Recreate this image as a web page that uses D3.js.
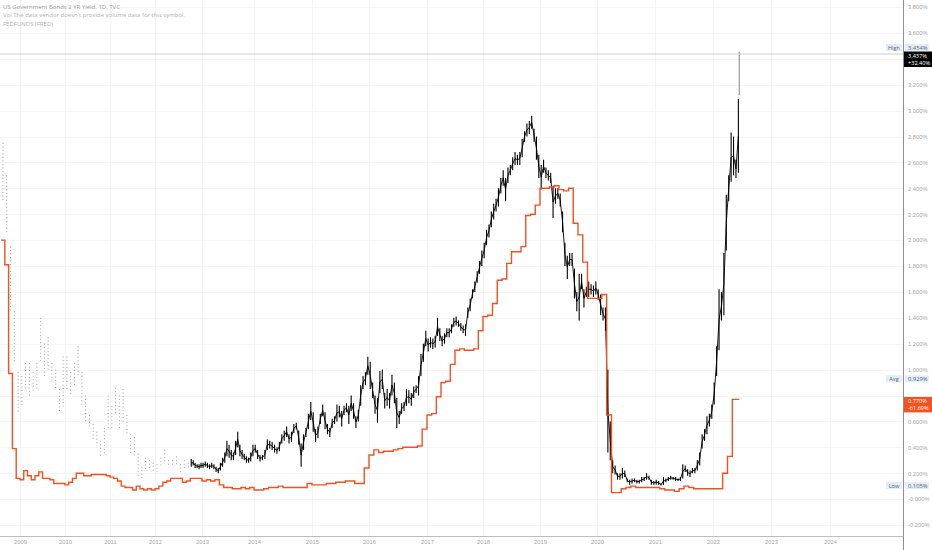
<!DOCTYPE html>
<html>
<head>
<meta charset="utf-8">
<script src="https://cdn.jsdelivr.net/npm/d3@7"></script>
<style>
  html, body { margin: 0; padding: 0; background: #fff; }
  svg { display: block; font-family: 'Open Sans', sans-serif; }
</style>
</head>
<body>
<div id="chart"></div>
<script>
// ---- Data -------------------------------------------------------------
const legendLines = [
  'US Government Bonds 2 YR Yield, 1D, TVC',
  "Vol  The data vendor doesn't provide volume data for this symbol.",
  'FEDFUNDS (FRED)'
];

const yearTicks = [2009, 2010, 2011, 2012, 2013, 2014, 2015, 2016,
                   2017, 2018, 2019, 2020, 2021, 2022, 2023, 2024];

const yTicks = [3.8, 3.6, 3.4, 3.2, 3.0, 2.8, 2.6, 2.4, 2.2, 2.0, 1.8,
                1.6, 1.4, 1.2, 1.0, 0.8, 0.6, 0.4, 0.2, 0.0, -0.2];
const yTickLabels = ['3.800%', '3.600%', '3.400%', '3.200%', '3.000%', '2.800%',
  '2.600%', '2.400%', '2.200%', '2.000%', '1.800%', '1.600%', '1.400%', '1.200%',
  '1.000%', '0.800%', '0.600%', '0.400%', '0.200%', '-0.000%', '-0.200%'];

// 2Y yield, monthly [low, high], Aug 2008 .. Sep 2012 (sparse, drawn dotted)
const twoYearEarlyStart = { year: 2008, month: 7 };
const twoYearEarly = [
  [2.30, 2.75], [2.05, 2.50], [1.45, 1.95], [1.05, 1.45], [0.66, 0.98],
  [0.72, 0.95], [0.85, 1.05], [0.78, 1.05], [0.82, 0.98], [0.85, 1.05], [1.05, 1.40],
  [0.95, 1.20], [0.98, 1.25], [0.90, 1.05], [0.85, 1.00], [0.68, 0.85], [0.70, 1.10],
  [0.85, 1.10], [0.80, 0.98], [0.88, 1.05], [0.95, 1.18], [0.72, 0.98], [0.60, 0.80],
  [0.55, 0.65], [0.45, 0.58], [0.42, 0.52], [0.33, 0.45], [0.35, 0.55], [0.55, 0.80],
  [0.55, 0.72], [0.65, 0.86], [0.55, 0.80], [0.60, 0.85], [0.50, 0.65], [0.35, 0.50],
  [0.33, 0.48], [0.17, 0.35], [0.16, 0.25], [0.22, 0.32], [0.22, 0.30], [0.22, 0.28],
  [0.21, 0.27], [0.26, 0.32], [0.28, 0.38], [0.25, 0.30], [0.25, 0.30], [0.26, 0.33],
  [0.21, 0.27], [0.22, 0.30], [0.23, 0.28]
];

// 2Y yield, half-month [low, high], Oct 2012 .. first half of Jun 2022
const twoYearStart = { year: 2012, month: 9 };
const twoYear = [
  // 2012 Oct-Dec
  [0.25, 0.31], [0.26, 0.30], [0.24, 0.28], [0.24, 0.27], [0.23, 0.27], [0.24, 0.28],
  // 2013
  [0.24, 0.28], [0.25, 0.29], [0.24, 0.28], [0.23, 0.27], [0.24, 0.28], [0.23, 0.27],
  [0.21, 0.25], [0.20, 0.24], [0.22, 0.28], [0.25, 0.32], [0.28, 0.36], [0.33, 0.45],
  [0.32, 0.42], [0.30, 0.38], [0.30, 0.36], [0.34, 0.45], [0.40, 0.52], [0.33, 0.42],
  [0.31, 0.38], [0.30, 0.35], [0.28, 0.33], [0.28, 0.32], [0.29, 0.36], [0.33, 0.42],
  // 2014
  [0.36, 0.42], [0.31, 0.38], [0.29, 0.34], [0.30, 0.34], [0.31, 0.38], [0.38, 0.46],
  [0.39, 0.45], [0.38, 0.44], [0.36, 0.42], [0.35, 0.40], [0.37, 0.44], [0.43, 0.50],
  [0.45, 0.53], [0.48, 0.56], [0.43, 0.50], [0.44, 0.52], [0.51, 0.58], [0.54, 0.59],
  [0.42, 0.53], [0.25, 0.43], [0.38, 0.50], [0.48, 0.55], [0.54, 0.66], [0.61, 0.75],
  // 2015
  [0.52, 0.67], [0.44, 0.54], [0.47, 0.56], [0.58, 0.66], [0.64, 0.73], [0.54, 0.67],
  [0.50, 0.58], [0.48, 0.55], [0.55, 0.62], [0.58, 0.64], [0.60, 0.73], [0.63, 0.72],
  [0.56, 0.68], [0.65, 0.72], [0.67, 0.74], [0.58, 0.72], [0.68, 0.80], [0.62, 0.74],
  [0.55, 0.64], [0.60, 0.69], [0.72, 0.88], [0.85, 0.95], [0.88, 0.98], [0.96, 1.10],
  // 2016
  [0.85, 1.06], [0.78, 0.90], [0.66, 0.80], [0.59, 0.78], [0.82, 0.99], [0.85, 1.00],
  [0.70, 0.82], [0.72, 0.85], [0.70, 0.82], [0.80, 0.96], [0.74, 0.90], [0.55, 0.78],
  [0.58, 0.68], [0.66, 0.74], [0.68, 0.75], [0.72, 0.85], [0.74, 0.84], [0.72, 0.82],
  [0.78, 0.87], [0.82, 0.88], [0.80, 0.95], [0.95, 1.12], [1.06, 1.20], [1.18, 1.30],
  // 2017
  [1.14, 1.24], [1.17, 1.25], [1.16, 1.24], [1.17, 1.26], [1.26, 1.40], [1.22, 1.32],
  [1.18, 1.26], [1.20, 1.28], [1.25, 1.32], [1.25, 1.32], [1.28, 1.35], [1.33, 1.40],
  [1.34, 1.41], [1.33, 1.38], [1.30, 1.36], [1.28, 1.34], [1.26, 1.35], [1.40, 1.48],
  [1.45, 1.55], [1.55, 1.62], [1.60, 1.68], [1.67, 1.76], [1.74, 1.84], [1.80, 1.92],
  // 2018
  [1.86, 1.98], [1.96, 2.08], [2.02, 2.12], [2.10, 2.22], [2.16, 2.28], [2.22, 2.32],
  [2.26, 2.40], [2.36, 2.48], [2.42, 2.54], [2.30, 2.48], [2.44, 2.56], [2.50, 2.58],
  [2.54, 2.64], [2.58, 2.68], [2.58, 2.66], [2.58, 2.68], [2.64, 2.78], [2.76, 2.84],
  [2.80, 2.90], [2.82, 2.92], [2.86, 2.96], [2.76, 2.86], [2.62, 2.80], [2.48, 2.66],
  // 2019
  [2.39, 2.58], [2.52, 2.62], [2.48, 2.56], [2.46, 2.54], [2.44, 2.52], [2.17, 2.42],
  [2.28, 2.40], [2.32, 2.40], [2.26, 2.36], [2.06, 2.22], [1.80, 1.98], [1.70, 1.88],
  [1.80, 1.90], [1.80, 1.90], [1.55, 1.78], [1.45, 1.60], [1.38, 1.74], [1.62, 1.74],
  [1.48, 1.62], [1.56, 1.64], [1.56, 1.68], [1.58, 1.66], [1.56, 1.65], [1.58, 1.68],
  // 2020
  [1.54, 1.62], [1.42, 1.58], [1.38, 1.48], [1.30, 1.48], [0.36, 1.00], [0.30, 0.60],
  [0.20, 0.30], [0.19, 0.26], [0.15, 0.20], [0.15, 0.20], [0.16, 0.24], [0.17, 0.22],
  [0.13, 0.16], [0.11, 0.15], [0.12, 0.16], [0.13, 0.16], [0.12, 0.15], [0.12, 0.15],
  [0.13, 0.17], [0.14, 0.17], [0.15, 0.20], [0.15, 0.18], [0.11, 0.15], [0.11, 0.14],
  // 2021
  [0.11, 0.15], [0.11, 0.14], [0.105, 0.12], [0.11, 0.17], [0.13, 0.16], [0.14, 0.17],
  [0.15, 0.18], [0.15, 0.17], [0.14, 0.17], [0.14, 0.16], [0.14, 0.17], [0.16, 0.27],
  [0.21, 0.26], [0.18, 0.23], [0.17, 0.22], [0.20, 0.24], [0.20, 0.24], [0.22, 0.30],
  [0.26, 0.36], [0.39, 0.50], [0.45, 0.54], [0.50, 0.64], [0.56, 0.66], [0.62, 0.73],
  // 2022 Jan .. Jun (first half)
  [0.73, 0.90], [0.95, 1.18], [1.15, 1.62], [1.38, 1.60], [1.42, 1.90], [1.92, 2.35],
  [2.30, 2.50], [2.45, 2.83], [2.50, 2.80], [2.48, 2.62], [2.52, 3.09]
];

// last (live) daily bar, 14 Jun 2022
const lastBarDate = 2022.453;
const lastBar = [3.12, 3.454];
const lastClose = 3.437;

// FEDFUNDS monthly, Aug 2008 .. May 2022
const fedStart = { year: 2008, month: 7 };
const fedFunds = [
  2.00, 1.81, 0.97, 0.39, 0.16,
  0.15, 0.22, 0.18, 0.15, 0.18, 0.21, 0.16, 0.16, 0.15, 0.12, 0.12, 0.12,
  0.11, 0.13, 0.16, 0.20, 0.20, 0.18, 0.18, 0.19, 0.19, 0.19, 0.19, 0.18,
  0.17, 0.16, 0.14, 0.10, 0.09, 0.09, 0.07, 0.10, 0.08, 0.07, 0.08, 0.07,
  0.08, 0.10, 0.13, 0.14, 0.16, 0.16, 0.16, 0.13, 0.14, 0.16, 0.16, 0.16,
  0.14, 0.15, 0.14, 0.15, 0.11, 0.09, 0.09, 0.08, 0.08, 0.09, 0.08, 0.09,
  0.07, 0.07, 0.08, 0.09, 0.09, 0.10, 0.09, 0.09, 0.09, 0.09, 0.09, 0.12,
  0.11, 0.11, 0.11, 0.12, 0.12, 0.13, 0.13, 0.14, 0.14, 0.12, 0.12, 0.24,
  0.34, 0.38, 0.36, 0.37, 0.37, 0.38, 0.39, 0.40, 0.40, 0.40, 0.41, 0.54,
  0.65, 0.66, 0.79, 0.90, 0.91, 1.04, 1.15, 1.16, 1.15, 1.15, 1.16, 1.30,
  1.41, 1.42, 1.51, 1.69, 1.70, 1.82, 1.91, 1.91, 1.95, 2.19, 2.20, 2.27,
  2.40, 2.40, 2.41, 2.42, 2.39, 2.38, 2.40, 2.13, 2.04, 1.83, 1.55, 1.55,
  1.55, 1.58, 0.65, 0.05, 0.05, 0.08, 0.09, 0.10, 0.09, 0.09, 0.09, 0.09,
  0.09, 0.08, 0.07, 0.07, 0.06, 0.08, 0.10, 0.09, 0.08, 0.08, 0.08, 0.08,
  0.08, 0.08, 0.20, 0.33, 0.77
];

// price-scale markers
const statMarkers = [
  { name: 'High', value: 3.454, label: '3.454%' },
  { name: 'Avg',  value: 0.929, label: '0.929%' },
  { name: 'Low',  value: 0.105, label: '0.105%' }
];
const lastMarkers = [
  { value: 3.437, lines: ['3.437%', '+32.40%'], fill: '#000000' },
  { value: 0.770, lines: ['0.770%', '-61.69%'], fill: '#f4511e' }
];

function draw() {
  // ---- Dimensions -----------------------------------------------------
  const dimensions = { width: 932, height: 550, plotRight: 903, plotBottom: 536 };
  const boxTop = -2.5, boxHeight = 15.5;

  const svg = d3.select('#chart')
    .append('svg')
    .attr('width', dimensions.width)
    .attr('height', dimensions.height);

  svg.append('defs').append('clipPath').attr('id', 'plot-clip')
    .append('rect')
    .attr('width', dimensions.plotRight)
    .attr('height', dimensions.plotBottom);

  // ---- Scales ---------------------------------------------------------
  // TradingView spaces bars by index, so years before 2013 are compressed
  const xScale = d3.scaleLinear()
    .domain([2008, ...yearTicks])
    .range([-25.5, 20, 65, 110, 155, 202, 254, 312, 369, 427, 483, 540, 597, 655, 713, 771, 830]);

  const yScale = d3.scaleLinear()
    .domain([-0.2, 3.8])
    .range([525, 7]);

  const monthT = (start, i, off) => start.year + (start.month + i + off) / 12;
  const halfT = (start, i) => start.year + (start.month + (i + 0.5) / 2) / 12;

  // ---- Grid -----------------------------------------------------------
  const grid = svg.append('g').attr('stroke', '#f5f5f5').attr('stroke-width', 1);
  grid.selectAll('line.h')
    .data(yTicks)
    .join('line')
    .attr('class', 'h')
    .attr('x1', 0).attr('x2', dimensions.plotRight)
    .attr('y1', d => Math.round(yScale(d)) + 0.5)
    .attr('y2', d => Math.round(yScale(d)) + 0.5);
  grid.selectAll('line.v')
    .data(yearTicks)
    .join('line')
    .attr('class', 'v')
    .attr('y1', 0).attr('y2', dimensions.plotBottom)
    .attr('x1', d => Math.round(xScale(d)) + 0.5)
    .attr('x2', d => Math.round(xScale(d)) + 0.5);

  const plot = svg.append('g').attr('clip-path', 'url(#plot-clip)');

  // ---- Early 2Y (dotted) ----------------------------------------------
  plot.append('g')
    .selectAll('line')
    .data(twoYearEarly)
    .join('line')
    .attr('x1', (d, i) => xScale(monthT(twoYearEarlyStart, i, 0.5)))
    .attr('x2', (d, i) => xScale(monthT(twoYearEarlyStart, i, 0.5)))
    .attr('y1', d => yScale(d[1]))
    .attr('y2', d => yScale(d[0]))
    .attr('stroke', '#8a8a8a')
    .attr('stroke-width', 0.9)
    .attr('stroke-dasharray', '0.9 2.6');

  // ---- 2Y bars --------------------------------------------------------
  const bars = plot.append('g');
  bars.selectAll('line')
    .data(twoYear)
    .join('line')
    .attr('x1', (d, i) => xScale(halfT(twoYearStart, i)))
    .attr('x2', (d, i) => xScale(halfT(twoYearStart, i)))
    .attr('y1', d => yScale(d[1]))
    .attr('y2', d => yScale(d[0]))
    .attr('stroke', '#000')
    .attr('stroke-width', 1.1);

  const midLine = d3.line()
    .x((d, i) => xScale(halfT(twoYearStart, i)))
    .y(d => yScale((d[0] + d[1]) / 2));
  bars.append('path')
    .datum(twoYear)
    .attr('d', midLine)
    .attr('fill', 'none')
    .attr('stroke', '#000')
    .attr('stroke-width', 0.9);

  plot.append('line')
    .attr('x1', xScale(lastBarDate)).attr('x2', xScale(lastBarDate))
    .attr('y1', yScale(lastBar[1])).attr('y2', yScale(lastBar[0]))
    .attr('stroke', '#9a9a9a')
    .attr('stroke-width', 1.2);

  // ---- FEDFUNDS step --------------------------------------------------
  const fedPoints = fedFunds.map((v, i) => [monthT(fedStart, i, 0), v]);
  fedPoints.push([lastBarDate, fedFunds[fedFunds.length - 1]]);
  plot.append('path')
    .datum(fedPoints)
    .attr('d', d3.line().curve(d3.curveStepAfter)
      .x(d => xScale(d[0]))
      .y(d => yScale(d[1])))
    .attr('fill', 'none')
    .attr('stroke', '#f4511e')
    .attr('stroke-width', 1.4);

  // ---- Last price line ------------------------------------------------
  svg.append('line')
    .attr('x1', 0).attr('x2', dimensions.plotRight)
    .attr('y1', yScale(lastClose)).attr('y2', yScale(lastClose))
    .attr('stroke', '#cfcfcf')
    .attr('stroke-width', 1);

  // ---- Axes -----------------------------------------------------------
  const xAxis = d3.axisBottom(xScale)
    .tickValues(yearTicks)
    .tickSize(0)
    .tickPadding(4)
    .tickFormat(d3.format('d'));
  const xAxisGroup = svg.append('g')
    .attr('transform', `translate(0,${dimensions.plotBottom})`)
    .call(xAxis);
  xAxisGroup.select('.domain').remove();
  xAxisGroup.selectAll('text')
    .attr('fill', '#a6a6a6')
    .style('font-size', '5.8px');

  // tick labels hidden behind the last-value boxes are not shown
  const hidden = t => lastMarkers.some(m => {
    const y = yScale(t), y0 = yScale(m.value);
    return y > y0 + boxTop - 3 && y < y0 + boxTop + boxHeight + 3;
  });
  const shownTicks = yTicks.filter(t => !hidden(t));

  const yAxis = d3.axisRight(yScale)
    .tickValues(shownTicks)
    .tickSize(0)
    .tickPadding(5)
    .tickFormat(d => yTickLabels[yTicks.indexOf(d)]);
  const yAxisGroup = svg.append('g')
    .attr('transform', `translate(${dimensions.plotRight},0)`)
    .call(yAxis);
  yAxisGroup.select('.domain').remove();
  yAxisGroup.selectAll('text')
    .attr('fill', '#a6a6a6')
    .style('font-size', '5.8px');

  svg.append('line')
    .attr('x1', 0).attr('x2', dimensions.plotRight)
    .attr('y1', dimensions.plotBottom + 0.5).attr('y2', dimensions.plotBottom + 0.5)
    .attr('stroke', '#bdbdbd');
  svg.append('line')
    .attr('x1', dimensions.plotRight + 0.5).attr('x2', dimensions.plotRight + 0.5)
    .attr('y1', 0).attr('y2', dimensions.height)
    .attr('stroke', '#8f8f8f');

  // ---- Price-scale markers --------------------------------------------
  // a stat label that would sit on a last-value box is pushed just above it
  const statY = d => {
    let y = yScale(d.value);
    lastMarkers.forEach(m => {
      const top = yScale(m.value) + boxTop;
      if (y > top - 4 && y < top + boxHeight) y = top - 4;
    });
    return y;
  };
  const stats = svg.append('g')
    .selectAll('g')
    .data(statMarkers)
    .join('g')
    .attr('transform', d => `translate(0,${statY(d)})`);
  stats.append('rect')
    .attr('x', dimensions.plotRight - 17).attr('y', -3.5)
    .attr('width', 16).attr('height', 7)
    .attr('fill', '#e3edf9');
  stats.append('rect')
    .attr('x', dimensions.plotRight + 2).attr('y', -3.5)
    .attr('width', 24).attr('height', 7)
    .attr('fill', '#e3edf9');
  stats.append('text')
    .attr('x', dimensions.plotRight - 9).attr('y', 2)
    .attr('text-anchor', 'middle')
    .attr('fill', '#5d6470')
    .style('font-size', '5.6px')
    .text(d => d.name);
  stats.append('text')
    .attr('x', dimensions.plotRight + 5).attr('y', 2)
    .attr('fill', '#5d6470')
    .style('font-size', '5.8px')
    .text(d => d.label);

  const lasts = svg.append('g')
    .selectAll('g')
    .data(lastMarkers)
    .join('g')
    .attr('transform', d => `translate(${dimensions.plotRight + 1},${yScale(d.value)})`);
  lasts.append('rect')
    .attr('x', 0).attr('y', boxTop)
    .attr('width', dimensions.width - dimensions.plotRight - 1).attr('height', boxHeight)
    .attr('fill', d => d.fill);
  lasts.selectAll('text')
    .data(d => d.lines)
    .join('text')
    .attr('x', 4)
    .attr('y', (d, i) => 4 + i * 7)
    .attr('fill', '#fff')
    .style('font-size', '5.6px')
    .text(d => d);

  // ---- Legend ---------------------------------------------------------
  svg.append('g')
    .selectAll('text')
    .data(legendLines)
    .join('text')
    .attr('x', 3)
    .attr('y', (d, i) => 9 + i * 8.3)
    .attr('fill', (d, i) => i === 0 ? '#9c9c9c' : '#b0b0b0')
    .style('font-size', '6px')
    .text(d => d);
}

draw();
</script>
</body>
</html>
